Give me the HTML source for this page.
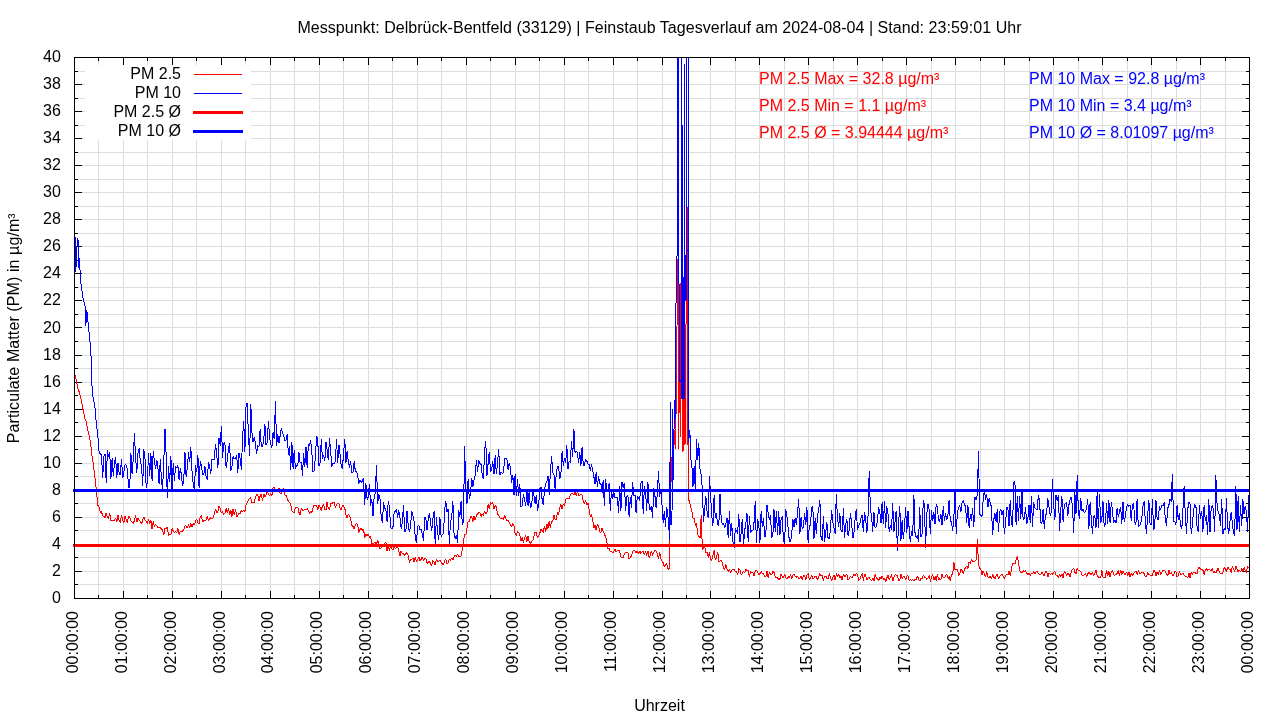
<!DOCTYPE html><html><head><meta charset="utf-8"><style>html,body{margin:0;padding:0;background:#fff;width:1280px;height:720px;overflow:hidden}svg{display:block;will-change:transform}text{font-family:"Liberation Sans",sans-serif;font-size:16px}</style></head><body><svg width="1280" height="720" viewBox="0 0 1280 720"><rect x="0" y="0" width="1280" height="720" fill="#fff"/><path d="M74.5 584.50H1249.5M74.5 571.50H1249.5M74.5 557.50H1249.5M74.5 544.50H1249.5M74.5 530.50H1249.5M74.5 517.50H1249.5M74.5 503.50H1249.5M74.5 490.50H1249.5M74.5 476.50H1249.5M74.5 463.50H1249.5M74.5 449.50H1249.5M74.5 436.50H1249.5M74.5 422.50H1249.5M74.5 409.50H1249.5M74.5 395.50H1249.5M74.5 382.50H1249.5M74.5 368.50H1249.5M74.5 355.50H1249.5M74.5 341.50H1249.5M74.5 327.50H1249.5M74.5 314.50H1249.5M74.5 300.50H1249.5M74.5 287.50H1249.5M74.5 273.50H1249.5M74.5 260.50H1249.5M74.5 246.50H1249.5M74.5 233.50H1249.5M74.5 219.50H1249.5M74.5 206.50H1249.5M74.5 192.50H1249.5M74.5 179.50H1249.5M74.5 165.50H1249.5M74.5 152.50H1249.5M74.5 138.50H1249.5M74.5 125.50H1249.5M74.5 111.50H1249.5M74.5 98.50H1249.5M74.5 84.50H1249.5M74.5 71.50H1249.5M98.50 57.5V598.5M123.50 57.5V598.5M147.50 57.5V598.5M172.50 57.5V598.5M196.50 57.5V598.5M221.50 57.5V598.5M245.50 57.5V598.5M270.50 57.5V598.5M294.50 57.5V598.5M319.50 57.5V598.5M343.50 57.5V598.5M368.50 57.5V598.5M392.50 57.5V598.5M417.50 57.5V598.5M441.50 57.5V598.5M466.50 57.5V598.5M490.50 57.5V598.5M515.50 57.5V598.5M539.50 57.5V598.5M564.50 57.5V598.5M588.50 57.5V598.5M613.50 57.5V598.5M637.50 57.5V598.5M662.50 57.5V598.5M686.50 57.5V598.5M710.50 57.5V598.5M735.50 57.5V598.5M759.50 57.5V598.5M784.50 57.5V598.5M808.50 57.5V598.5M833.50 57.5V598.5M857.50 57.5V598.5M882.50 57.5V598.5M906.50 57.5V598.5M931.50 57.5V598.5M955.50 57.5V598.5M980.50 57.5V598.5M1004.50 57.5V598.5M1029.50 57.5V598.5M1053.50 57.5V598.5M1078.50 57.5V598.5M1102.50 57.5V598.5M1127.50 57.5V598.5M1151.50 57.5V598.5M1176.50 57.5V598.5M1200.50 57.5V598.5M1225.50 57.5V598.5" stroke="#dddddd" stroke-width="1" fill="none"/><rect x="85" y="65" width="166" height="75" fill="#fff"/><path d="M74.5 598.50h7.5M1249.5 598.50h-7.5M74.5 584.50h3.5M1249.5 584.50h-3.5M74.5 571.50h7.5M1249.5 571.50h-7.5M74.5 557.50h3.5M1249.5 557.50h-3.5M74.5 544.50h7.5M1249.5 544.50h-7.5M74.5 530.50h3.5M1249.5 530.50h-3.5M74.5 517.50h7.5M1249.5 517.50h-7.5M74.5 503.50h3.5M1249.5 503.50h-3.5M74.5 490.50h7.5M1249.5 490.50h-7.5M74.5 476.50h3.5M1249.5 476.50h-3.5M74.5 463.50h7.5M1249.5 463.50h-7.5M74.5 449.50h3.5M1249.5 449.50h-3.5M74.5 436.50h7.5M1249.5 436.50h-7.5M74.5 422.50h3.5M1249.5 422.50h-3.5M74.5 409.50h7.5M1249.5 409.50h-7.5M74.5 395.50h3.5M1249.5 395.50h-3.5M74.5 382.50h7.5M1249.5 382.50h-7.5M74.5 368.50h3.5M1249.5 368.50h-3.5M74.5 355.50h7.5M1249.5 355.50h-7.5M74.5 341.50h3.5M1249.5 341.50h-3.5M74.5 327.50h7.5M1249.5 327.50h-7.5M74.5 314.50h3.5M1249.5 314.50h-3.5M74.5 300.50h7.5M1249.5 300.50h-7.5M74.5 287.50h3.5M1249.5 287.50h-3.5M74.5 273.50h7.5M1249.5 273.50h-7.5M74.5 260.50h3.5M1249.5 260.50h-3.5M74.5 246.50h7.5M1249.5 246.50h-7.5M74.5 233.50h3.5M1249.5 233.50h-3.5M74.5 219.50h7.5M1249.5 219.50h-7.5M74.5 206.50h3.5M1249.5 206.50h-3.5M74.5 192.50h7.5M1249.5 192.50h-7.5M74.5 179.50h3.5M1249.5 179.50h-3.5M74.5 165.50h7.5M1249.5 165.50h-7.5M74.5 152.50h3.5M1249.5 152.50h-3.5M74.5 138.50h7.5M1249.5 138.50h-7.5M74.5 125.50h3.5M1249.5 125.50h-3.5M74.5 111.50h7.5M1249.5 111.50h-7.5M74.5 98.50h3.5M1249.5 98.50h-3.5M74.5 84.50h7.5M1249.5 84.50h-7.5M74.5 71.50h3.5M1249.5 71.50h-3.5M74.5 57.50h7.5M1249.5 57.50h-7.5M74.50 598.5v-7.5M74.50 57.5v7.5M98.50 598.5v-3.5M98.50 57.5v3.5M123.50 598.5v-7.5M123.50 57.5v7.5M147.50 598.5v-3.5M147.50 57.5v3.5M172.50 598.5v-7.5M172.50 57.5v7.5M196.50 598.5v-3.5M196.50 57.5v3.5M221.50 598.5v-7.5M221.50 57.5v7.5M245.50 598.5v-3.5M245.50 57.5v3.5M270.50 598.5v-7.5M270.50 57.5v7.5M294.50 598.5v-3.5M294.50 57.5v3.5M319.50 598.5v-7.5M319.50 57.5v7.5M343.50 598.5v-3.5M343.50 57.5v3.5M368.50 598.5v-7.5M368.50 57.5v7.5M392.50 598.5v-3.5M392.50 57.5v3.5M417.50 598.5v-7.5M417.50 57.5v7.5M441.50 598.5v-3.5M441.50 57.5v3.5M466.50 598.5v-7.5M466.50 57.5v7.5M490.50 598.5v-3.5M490.50 57.5v3.5M515.50 598.5v-7.5M515.50 57.5v7.5M539.50 598.5v-3.5M539.50 57.5v3.5M564.50 598.5v-7.5M564.50 57.5v7.5M588.50 598.5v-3.5M588.50 57.5v3.5M613.50 598.5v-7.5M613.50 57.5v7.5M637.50 598.5v-3.5M637.50 57.5v3.5M662.50 598.5v-7.5M662.50 57.5v7.5M686.50 598.5v-3.5M686.50 57.5v3.5M710.50 598.5v-7.5M710.50 57.5v7.5M735.50 598.5v-3.5M735.50 57.5v3.5M759.50 598.5v-7.5M759.50 57.5v7.5M784.50 598.5v-3.5M784.50 57.5v3.5M808.50 598.5v-7.5M808.50 57.5v7.5M833.50 598.5v-3.5M833.50 57.5v3.5M857.50 598.5v-7.5M857.50 57.5v7.5M882.50 598.5v-3.5M882.50 57.5v3.5M906.50 598.5v-7.5M906.50 57.5v7.5M931.50 598.5v-3.5M931.50 57.5v3.5M955.50 598.5v-7.5M955.50 57.5v7.5M980.50 598.5v-3.5M980.50 57.5v3.5M1004.50 598.5v-7.5M1004.50 57.5v7.5M1029.50 598.5v-3.5M1029.50 57.5v3.5M1053.50 598.5v-7.5M1053.50 57.5v7.5M1078.50 598.5v-3.5M1078.50 57.5v3.5M1102.50 598.5v-7.5M1102.50 57.5v7.5M1127.50 598.5v-3.5M1127.50 57.5v3.5M1151.50 598.5v-7.5M1151.50 57.5v7.5M1176.50 598.5v-3.5M1176.50 57.5v3.5M1200.50 598.5v-7.5M1200.50 57.5v7.5M1225.50 598.5v-3.5M1225.50 57.5v3.5M1249.50 598.5v-7.5M1249.50 57.5v7.5" stroke="#000" stroke-width="1" fill="none"/><defs><clipPath id="cp"><rect x="74.0" y="57.0" width="1176.0" height="542.0"/></clipPath></defs><g clip-path="url(#cp)" fill="none" stroke-linejoin="bevel" stroke-linecap="butt"><path d="M74.5 372.5L75.7 377.6L76.8 382.5L78.0 388.6L79.2 392.1L80.4 397.0L81.5 401.1L82.7 408.2L83.9 413.2L85.1 419.3L86.2 421.8L87.4 428.2L88.6 433.6L89.8 438.7L90.9 445.8L92.1 456.9L93.3 463.4L94.5 474.0L95.6 483.3L96.8 495.2L98.0 505.5L99.2 507.0L100.3 512.9L101.5 511.7L102.7 515.9L103.9 516.3L105.0 517.7L106.2 512.7L107.4 517.7L108.6 518.2L109.7 513.0L110.9 521.3L112.1 520.4L113.3 520.1L114.4 520.2L115.6 517.8L116.8 521.7L118.0 515.1L119.1 520.6L120.3 522.8L121.5 514.7L122.7 520.0L123.8 523.0L125.0 515.6L126.2 519.4L127.4 522.5L128.5 516.9L129.7 516.5L130.9 521.1L132.1 521.9L133.2 523.3L134.4 520.7L135.6 515.4L136.8 522.4L137.9 517.7L139.1 520.2L140.3 521.7L141.5 524.1L142.7 520.3L143.8 516.7L145.0 520.1L146.2 521.3L147.4 523.8L148.5 519.6L149.7 523.6L150.9 519.9L152.1 529.1L153.2 521.2L154.4 526.6L155.6 524.1L156.8 525.8L157.9 527.7L159.1 527.2L160.3 527.9L161.5 528.6L162.6 530.5L163.8 534.9L165.0 528.4L166.2 528.3L167.3 527.4L168.5 535.4L169.7 534.5L170.9 534.9L172.0 528.6L173.2 531.0L174.4 533.0L175.6 531.5L176.7 533.2L177.9 528.2L179.1 534.4L180.3 531.5L181.4 531.5L182.6 531.1L183.8 529.6L185.0 525.6L186.1 526.2L187.3 528.3L188.5 523.9L189.7 527.8L190.8 523.3L192.0 527.0L193.2 523.7L194.4 525.2L195.5 520.8L196.7 518.8L197.9 522.9L199.1 523.6L200.2 517.3L201.4 515.3L202.6 522.3L203.8 520.8L204.9 520.4L206.1 520.2L207.3 516.3L208.5 520.7L209.6 518.9L210.8 517.8L212.0 518.8L213.2 517.8L214.3 514.0L215.5 508.7L216.7 512.8L217.9 511.3L219.0 506.2L220.2 508.4L221.4 513.2L222.6 511.6L223.7 514.6L224.9 513.3L226.1 508.4L227.3 513.4L228.4 507.6L229.6 515.2L230.8 510.3L232.0 516.6L233.1 508.6L234.3 515.0L235.5 509.4L236.7 516.3L237.8 515.9L239.0 513.1L240.2 513.6L241.4 510.5L242.5 511.8L243.7 509.8L244.9 512.0L246.1 504.3L247.2 502.6L248.4 499.7L249.6 498.2L250.8 497.9L251.9 503.1L253.1 502.8L254.3 502.8L255.5 496.9L256.6 494.2L257.8 494.6L259.0 500.6L260.2 495.8L261.3 493.7L262.5 500.7L263.7 493.8L264.9 496.6L266.0 494.7L267.2 491.6L268.4 493.2L269.6 496.3L270.7 493.5L271.9 495.8L273.1 487.6L274.3 487.8L275.4 490.3L276.6 492.1L277.8 489.9L279.0 488.5L280.1 493.2L281.3 493.4L282.5 491.4L283.7 487.7L284.8 494.9L286.0 495.5L287.2 498.5L288.4 501.4L289.5 502.6L290.7 503.8L291.9 510.7L293.1 512.2L294.2 512.9L295.4 507.5L296.6 507.1L297.8 507.4L298.9 512.2L300.1 515.2L301.3 508.4L302.5 510.1L303.6 510.7L304.8 509.3L306.0 510.2L307.2 508.4L308.3 510.1L309.5 513.4L310.7 511.2L311.9 512.8L313.0 507.7L314.2 505.0L315.4 505.2L316.6 505.3L317.7 509.9L318.9 504.7L320.1 507.5L321.3 510.6L322.4 505.8L323.6 503.9L324.8 509.5L326.0 510.1L327.1 501.7L328.3 508.2L329.5 509.4L330.7 503.2L331.8 503.7L333.0 502.2L334.2 502.5L335.4 507.4L336.5 504.5L337.7 503.3L338.9 503.8L340.1 508.7L341.2 510.3L342.4 505.0L343.6 506.0L344.8 508.2L345.9 515.0L347.1 518.3L348.3 514.0L349.5 515.4L350.6 519.2L351.8 525.1L353.0 526.6L354.2 528.9L355.3 525.5L356.5 523.5L357.7 524.8L358.9 532.5L360.0 529.4L361.2 528.4L362.4 530.2L363.6 529.4L364.7 537.6L365.9 534.1L367.1 535.7L368.3 533.9L369.4 537.7L370.6 536.3L371.8 543.4L373.0 543.6L374.1 543.1L375.3 542.4L376.5 544.7L377.7 539.7L378.8 543.0L380.0 548.4L381.2 548.0L382.4 544.1L383.5 545.1L384.7 543.3L385.9 542.5L387.1 551.4L388.2 545.0L389.4 551.0L390.6 545.8L391.8 548.8L392.9 550.1L394.1 547.3L395.3 548.6L396.5 547.8L397.6 547.1L398.8 550.8L400.0 555.5L401.2 550.7L402.3 553.3L403.5 553.6L404.7 555.4L405.9 553.4L407.0 552.6L408.2 555.9L409.4 562.4L410.6 559.6L411.7 559.1L412.9 558.2L414.1 562.1L415.3 557.1L416.4 561.5L417.6 560.6L418.8 556.8L420.0 560.9L421.1 559.5L422.3 556.7L423.5 560.8L424.7 558.7L425.8 558.0L427.0 563.3L428.2 562.3L429.4 560.9L430.5 563.8L431.7 565.3L432.9 560.6L434.1 562.0L435.2 565.3L436.4 559.6L437.6 561.2L438.8 561.4L439.9 560.2L441.1 562.0L442.3 564.0L443.5 564.7L444.6 560.5L445.8 559.3L447.0 563.6L448.2 562.9L449.3 559.0L450.5 560.3L451.7 558.1L452.9 560.1L454.0 556.8L455.2 555.1L456.4 556.3L457.6 554.3L458.7 556.1L459.9 556.2L461.1 555.9L462.3 549.9L463.4 542.1L464.6 534.6L465.8 535.0L467.0 528.4L468.1 521.1L469.3 521.4L470.5 516.8L471.7 516.9L472.8 521.4L474.0 516.3L475.2 520.2L476.4 515.1L477.5 513.9L478.7 512.8L479.9 512.7L481.1 516.6L482.2 514.0L483.4 515.4L484.6 511.0L485.8 513.5L486.9 512.8L488.1 504.4L489.3 508.8L490.5 502.5L491.6 504.0L492.8 502.6L494.0 508.7L495.2 505.6L496.3 506.7L497.5 514.0L498.7 514.9L499.9 517.9L501.0 519.2L502.2 518.0L503.4 519.6L504.6 515.4L505.7 518.1L506.9 520.4L508.1 520.7L509.3 522.8L510.4 524.6L511.6 526.5L512.8 523.7L514.0 526.3L515.1 533.4L516.3 535.9L517.5 531.5L518.7 532.2L519.8 534.9L521.0 541.2L522.2 537.5L523.4 542.7L524.5 538.6L525.7 535.5L526.9 541.6L528.1 536.1L529.2 541.6L530.4 544.2L531.6 541.0L532.8 540.8L533.9 536.4L535.1 532.2L536.3 532.8L537.5 537.6L538.6 536.1L539.8 533.3L541.0 529.1L542.2 530.7L543.3 532.9L544.5 525.6L545.7 531.9L546.9 523.6L548.0 528.5L549.2 521.3L550.4 527.6L551.6 521.0L552.7 521.4L553.9 515.0L555.1 518.9L556.3 520.1L557.4 512.1L558.6 515.1L559.8 507.2L561.0 504.6L562.1 508.8L563.3 503.8L564.5 506.3L565.7 499.0L566.8 498.2L568.0 498.3L569.2 498.7L570.4 495.1L571.5 493.7L572.7 493.2L573.9 495.1L575.1 492.0L576.2 495.9L577.4 491.0L578.6 495.8L579.8 495.2L580.9 493.9L582.1 495.0L583.3 501.3L584.5 503.7L585.6 500.1L586.8 504.9L588.0 502.7L589.2 509.6L590.3 516.3L591.5 514.2L592.7 520.2L593.9 527.7L595.0 525.4L596.2 530.4L597.4 524.5L598.6 526.6L599.7 531.6L600.9 532.8L602.1 528.0L603.2 531.5L604.4 534.3L605.6 536.5L606.8 541.3L607.9 548.7L609.1 547.8L610.3 551.8L611.5 550.9L612.6 552.7L613.8 551.9L615.0 549.1L616.2 551.8L617.3 550.8L618.5 550.0L619.7 551.1L620.9 556.8L622.0 557.4L623.2 557.7L624.4 554.2L625.6 552.0L626.7 553.1L627.9 552.7L629.1 559.0L630.3 557.9L631.4 555.8L632.6 551.9L633.8 550.1L635.0 550.9L636.1 552.5L637.3 551.3L638.5 553.7L639.7 550.8L640.8 553.4L642.0 551.7L643.2 551.6L644.4 554.5L645.5 551.6L646.7 555.6L647.9 550.8L649.1 557.5L650.2 555.5L651.4 550.8L652.6 555.4L653.8 552.1L654.9 550.5L656.1 551.0L657.3 554.0L658.5 558.8L659.6 552.6L660.8 558.1L662.0 561.2L663.2 562.8L664.3 566.9L665.5 564.5L666.7 563.2L667.9 569.2L669.0 568.8L669.3 567.0L670.5 495.0L672.5 445.0L674.0 430.0L675.3 449.0L676.0 416.0L677.3 300.0L678.0 259.0L678.8 449.0L679.5 330.0L680.5 437.0L681.3 200.0L682.3 155.0L683.0 452.0L684.0 350.0L685.0 445.0L687.0 207.5L687.4 445.0L688.0 300.0L688.7 500.0L689.5 500.9L690.7 507.3L691.8 510.8L693.0 518.0L694.2 518.4L695.4 525.4L696.5 523.1L697.7 534.5L698.9 536.4L700.1 538.4L701.2 515.0L702.4 549.9L703.6 547.5L704.8 546.7L705.9 552.9L707.1 552.3L708.3 557.5L709.5 552.3L710.6 559.4L711.8 560.2L713.0 555.1L714.2 550.0L715.3 560.2L716.5 558.0L717.7 552.0L718.9 561.6L720.0 561.1L721.2 560.1L722.4 562.8L723.6 568.5L724.7 569.6L725.9 564.6L727.1 569.6L728.3 571.5L729.4 569.6L730.6 572.8L731.8 570.1L733.0 569.5L734.1 569.3L735.3 571.1L736.5 572.0L737.7 575.0L738.8 568.5L740.0 570.2L741.2 575.0L742.4 573.7L743.5 570.9L744.7 573.2L745.9 569.5L747.1 570.5L748.2 569.9L749.4 576.6L750.6 571.1L751.8 573.1L752.9 572.8L754.1 575.8L755.3 570.9L756.5 570.5L757.6 571.9L758.8 575.1L760.0 573.5L761.2 571.4L762.3 573.1L763.5 573.0L764.7 576.8L765.9 576.7L767.0 571.3L768.2 577.8L769.4 572.0L770.6 574.4L771.7 574.7L772.9 571.6L774.1 572.3L775.3 577.4L776.4 577.0L777.6 577.9L778.8 579.4L780.0 578.8L781.1 574.1L782.3 577.0L783.5 577.1L784.7 573.7L785.8 578.0L787.0 579.3L788.2 576.7L789.4 578.3L790.5 574.3L791.7 578.8L792.9 574.8L794.1 574.6L795.2 576.7L796.4 577.1L797.6 575.9L798.8 578.9L799.9 578.3L801.1 576.5L802.3 579.4L803.5 575.5L804.6 575.5L805.8 580.2L807.0 574.9L808.2 573.5L809.3 579.3L810.5 578.0L811.7 575.1L812.9 579.0L814.0 578.0L815.2 576.2L816.4 576.8L817.6 580.2L818.7 577.0L819.9 573.5L821.1 576.2L822.3 575.1L823.4 580.4L824.6 576.3L825.8 576.0L827.0 578.9L828.1 579.0L829.3 573.5L830.5 578.3L831.7 580.4L832.8 577.6L834.0 575.2L835.2 580.4L836.4 573.5L837.5 577.0L838.7 574.6L839.9 577.5L841.1 576.3L842.2 580.2L843.4 573.7L844.6 576.9L845.8 575.5L846.9 574.1L848.1 580.0L849.3 578.5L850.5 576.1L851.6 577.6L852.8 576.9L854.0 573.9L855.2 576.0L856.3 573.7L857.5 574.2L858.7 580.3L859.9 579.7L861.0 575.9L862.2 573.6L863.4 580.6L864.6 574.0L865.7 575.5L866.9 580.3L868.1 578.1L869.3 577.0L870.4 579.7L871.6 580.8L872.8 578.1L874.0 580.9L875.1 574.1L876.3 577.7L877.5 579.0L878.7 580.3L879.8 577.3L881.0 578.5L882.2 575.8L883.4 579.3L884.5 578.1L885.7 581.4L886.9 577.7L888.1 575.0L889.2 579.8L890.4 577.1L891.6 574.5L892.8 581.2L893.9 577.5L895.1 574.8L896.3 575.1L897.5 575.5L898.6 580.9L899.8 580.0L901.0 573.8L902.2 579.1L903.3 576.1L904.5 577.0L905.7 579.4L906.9 575.8L908.0 575.8L909.2 580.9L910.4 579.8L911.6 580.1L912.7 579.4L913.9 581.2L915.1 579.5L916.3 579.5L917.4 575.8L918.6 579.1L919.8 581.0L921.0 578.1L922.1 579.2L923.3 574.9L924.5 577.2L925.7 577.7L926.8 579.3L928.0 577.7L929.2 575.4L930.4 581.4L931.5 577.4L932.7 574.4L933.9 580.2L935.1 576.4L936.2 581.1L937.4 573.7L938.6 579.6L939.8 578.9L940.9 579.2L942.1 573.8L943.3 577.5L944.5 577.5L945.6 575.9L946.8 574.2L948.0 578.4L949.2 576.4L950.3 581.1L951.5 574.1L952.7 574.4L953.9 562.5L955.0 569.6L956.2 569.7L957.4 569.2L958.6 575.3L959.7 574.8L960.9 569.4L962.1 570.7L963.3 573.8L964.4 569.0L965.6 567.7L966.8 566.2L968.0 568.5L969.1 561.8L970.3 563.8L971.5 558.7L972.7 562.0L973.8 561.9L975.0 561.2L976.2 559.8L977.4 538.8L978.5 565.1L979.7 568.0L980.9 569.6L982.1 575.3L983.2 570.7L984.4 573.6L985.6 577.3L986.8 571.6L987.9 577.2L989.1 578.2L990.3 576.0L991.5 578.4L992.6 574.6L993.8 577.2L995.0 579.0L996.2 575.0L997.3 574.6L998.5 578.6L999.7 576.6L1000.9 575.0L1002.0 574.2L1003.2 576.7L1004.4 578.8L1005.6 575.0L1006.7 574.7L1007.9 575.1L1009.1 571.3L1010.3 576.2L1011.4 569.3L1012.6 563.0L1013.8 563.1L1015.0 563.5L1016.1 560.0L1017.3 556.0L1018.5 562.3L1019.7 570.0L1020.8 572.7L1022.0 572.7L1023.2 570.5L1024.4 571.9L1025.5 570.3L1026.7 573.4L1027.9 574.6L1029.1 572.8L1030.2 575.4L1031.4 573.1L1032.6 573.8L1033.8 571.6L1034.9 574.3L1036.1 571.7L1037.3 571.8L1038.5 573.4L1039.6 575.1L1040.8 574.1L1042.0 571.8L1043.2 574.6L1044.3 575.6L1045.5 571.7L1046.7 571.0L1047.9 576.9L1049.0 572.7L1050.2 574.5L1051.4 573.9L1052.6 574.1L1053.7 572.5L1054.9 571.2L1056.1 575.6L1057.3 575.4L1058.4 577.5L1059.6 574.0L1060.8 576.8L1062.0 574.0L1063.1 577.9L1064.3 571.3L1065.5 572.4L1066.7 576.2L1067.8 573.4L1069.0 574.5L1070.2 577.0L1071.4 571.0L1072.5 569.2L1073.7 568.2L1074.9 572.3L1076.1 574.3L1077.2 568.0L1078.4 570.5L1079.6 570.5L1080.8 571.7L1081.9 575.0L1083.1 576.1L1084.3 574.3L1085.5 573.8L1086.6 577.3L1087.8 573.5L1089.0 572.4L1090.2 573.8L1091.3 575.3L1092.5 571.9L1093.7 576.0L1094.9 573.0L1096.0 570.5L1097.2 575.6L1098.4 577.1L1099.6 577.3L1100.7 577.9L1101.9 570.4L1103.1 577.8L1104.3 577.2L1105.4 577.1L1106.6 570.1L1107.8 575.4L1109.0 571.6L1110.1 577.2L1111.3 572.2L1112.5 570.5L1113.7 574.7L1114.8 575.5L1116.0 574.3L1117.2 573.3L1118.4 570.5L1119.5 575.8L1120.7 570.1L1121.9 574.6L1123.1 570.8L1124.2 573.6L1125.4 574.7L1126.6 572.0L1127.8 576.0L1128.9 572.0L1130.1 576.9L1131.3 573.1L1132.5 575.5L1133.6 573.6L1134.8 572.6L1136.0 570.7L1137.2 574.9L1138.3 570.4L1139.5 573.7L1140.7 573.3L1141.9 572.3L1143.0 572.0L1144.2 573.9L1145.4 577.0L1146.6 576.4L1147.7 572.5L1148.9 574.8L1150.1 575.0L1151.3 575.8L1152.4 575.0L1153.6 570.5L1154.8 571.1L1156.0 576.3L1157.1 572.1L1158.3 574.5L1159.5 570.4L1160.7 574.6L1161.8 572.3L1163.0 570.3L1164.2 570.1L1165.4 571.9L1166.5 574.1L1167.7 576.0L1168.9 570.2L1170.1 574.1L1171.2 572.7L1172.4 574.9L1173.6 575.6L1174.8 570.7L1175.9 572.0L1177.1 577.0L1178.3 575.3L1179.5 571.3L1180.6 574.7L1181.8 574.0L1183.0 573.1L1184.2 575.7L1185.3 576.2L1186.5 576.7L1187.7 578.0L1188.9 572.7L1190.0 577.9L1191.2 572.6L1192.4 574.5L1193.6 572.1L1194.7 572.2L1195.9 573.7L1197.1 573.8L1198.3 568.1L1199.4 567.3L1200.6 569.8L1201.8 569.5L1203.0 570.5L1204.1 574.5L1205.3 569.3L1206.5 568.7L1207.7 570.3L1208.8 569.5L1210.0 570.1L1211.2 571.0L1212.4 567.7L1213.5 572.8L1214.7 571.8L1215.9 572.7L1217.1 570.2L1218.2 568.0L1219.4 572.5L1220.6 573.6L1221.8 573.7L1222.9 572.3L1224.1 567.5L1225.3 568.8L1226.5 572.0L1227.6 566.8L1228.8 568.7L1230.0 569.5L1231.2 572.7L1232.3 566.6L1233.5 568.5L1234.7 571.4L1235.9 566.3L1237.0 568.7L1238.2 572.1L1239.4 569.9L1240.6 572.1L1241.7 568.1L1242.9 571.8L1244.1 567.4L1245.3 571.1L1246.4 572.4L1247.6 566.5L1248.8 568.3" stroke="#f00" stroke-width="1" shape-rendering="crispEdges"/><path d="M74.5 240.0L75.2 237.5L75.6 272.0L76.5 262.0L77.3 238.0L78.0 238.0L78.4 268.0L79.2 258.0L81.0 284.0L83.0 298.0L85.0 306.0L85.8 326.0L86.8 310.0L89.4 336.0L90.8 350.0L92.2 392.0L95.0 408.0L96.4 425.0L97.5 432.0L99.2 452.7L100.3 453.8L101.5 454.7L102.7 478.1L103.9 456.1L105.0 454.0L106.2 482.7L107.4 450.1L108.6 457.1L109.7 451.9L110.9 478.7L112.1 458.0L113.3 476.4L114.4 462.9L115.6 457.4L116.8 477.5L118.0 463.1L119.1 473.2L120.3 474.9L121.5 458.9L122.7 478.2L123.8 472.8L125.0 464.6L126.2 464.9L127.4 469.7L128.5 486.9L129.7 488.2L130.9 452.9L132.1 474.3L133.2 459.9L134.4 433.0L135.6 458.5L136.8 472.7L137.9 453.3L139.1 448.3L140.3 461.4L141.5 465.1L142.7 486.3L143.8 449.4L145.0 458.6L146.2 487.5L147.4 481.6L148.5 452.8L149.7 476.0L150.9 453.0L152.1 480.8L153.2 451.1L154.4 460.6L155.6 468.8L156.8 460.2L157.9 467.1L159.1 483.8L160.3 458.9L161.5 481.3L162.6 489.2L163.8 460.1L165.0 428.8L166.2 456.0L167.3 498.0L168.5 466.5L169.7 481.9L170.9 455.6L172.0 491.9L173.2 463.3L174.4 480.8L175.6 466.2L176.7 468.1L177.9 465.5L179.1 479.9L180.3 468.0L181.4 474.9L182.6 486.0L183.8 478.9L185.0 452.4L186.1 476.7L187.3 467.7L188.5 452.5L189.7 462.4L190.8 447.5L192.0 470.8L193.2 483.5L194.4 490.2L195.5 464.9L196.7 472.2L197.9 455.0L199.1 488.3L200.2 461.6L201.4 465.6L202.6 474.4L203.8 474.9L204.9 466.2L206.1 476.4L207.3 480.0L208.5 462.1L209.6 465.8L210.8 474.1L212.0 459.2L213.2 459.6L214.3 459.9L215.5 443.7L216.7 453.9L217.9 468.2L219.0 437.9L220.2 445.6L221.4 426.2L222.6 457.5L223.7 444.0L224.9 442.8L226.1 468.1L227.3 460.2L228.4 449.0L229.6 443.2L230.8 470.9L232.0 466.5L233.1 456.3L234.3 459.1L235.5 458.3L236.7 454.7L237.8 472.6L239.0 452.8L240.2 458.5L241.4 469.8L242.5 438.9L243.7 421.4L244.9 452.0L246.1 403.0L247.2 403.5L248.4 433.6L249.6 455.6L250.8 404.0L251.9 432.5L253.1 442.4L254.3 437.3L255.5 443.6L256.6 454.2L257.8 445.6L259.0 446.7L260.2 428.6L261.3 447.0L262.5 446.3L263.7 440.7L264.9 424.1L266.0 444.6L267.2 442.4L268.4 420.8L269.6 437.8L270.7 444.5L271.9 447.4L273.1 432.2L274.3 439.1L275.4 401.0L276.6 445.9L277.8 434.0L279.0 442.6L280.1 436.0L281.3 428.4L282.5 433.2L283.7 435.6L284.8 441.2L286.0 440.2L287.2 433.8L288.4 454.9L289.5 446.2L290.7 469.8L291.9 442.5L293.1 468.5L294.2 450.1L295.4 469.4L296.6 464.9L297.8 465.8L298.9 452.5L300.1 462.4L301.3 462.0L302.5 475.9L303.6 453.2L304.8 466.6L306.0 446.8L307.2 468.2L308.3 444.3L309.5 445.6L310.7 440.4L311.9 453.4L313.0 471.7L314.2 471.1L315.4 456.9L316.6 436.1L317.7 439.5L318.9 466.1L320.1 462.9L321.3 439.4L322.4 459.0L323.6 454.8L324.8 461.2L326.0 442.1L327.1 449.8L328.3 460.0L329.5 437.8L330.7 451.8L331.8 466.8L333.0 463.2L334.2 463.5L335.4 460.9L336.5 439.1L337.7 463.4L338.9 444.6L340.1 454.7L341.2 466.0L342.4 468.7L343.6 452.9L344.8 439.1L345.9 463.4L347.1 451.3L348.3 461.7L349.5 467.9L350.6 460.7L351.8 473.3L353.0 472.3L354.2 460.9L355.3 471.1L356.5 471.4L357.7 476.0L358.9 483.7L360.0 479.6L361.2 482.9L362.4 480.8L363.6 478.2L364.7 505.3L365.9 483.4L367.1 499.4L368.3 496.8L369.4 484.1L370.6 505.5L371.8 499.1L373.0 516.3L374.1 497.7L375.3 492.8L376.5 465.0L377.7 503.6L378.8 494.4L380.0 498.8L381.2 516.4L382.4 523.4L383.5 502.2L384.7 508.3L385.9 509.7L387.1 521.8L388.2 501.0L389.4 506.8L390.6 527.4L391.8 528.5L392.9 528.0L394.1 513.1L395.3 511.1L396.5 509.3L397.6 518.0L398.8 510.5L400.0 517.8L401.2 528.8L402.3 522.7L403.5 505.5L404.7 531.8L405.9 531.1L407.0 511.1L408.2 525.0L409.4 532.2L410.6 526.0L411.7 511.4L412.9 515.0L414.1 521.7L415.3 538.1L416.4 543.2L417.6 526.5L418.8 525.4L420.0 530.0L421.1 529.5L422.3 534.0L423.5 541.0L424.7 517.3L425.8 517.3L427.0 530.2L428.2 519.1L429.4 513.5L430.5 522.2L431.7 530.8L432.9 519.1L434.1 511.2L435.2 544.7L436.4 516.9L437.6 532.4L438.8 539.6L439.9 517.5L441.1 536.5L442.3 534.8L443.5 533.8L444.6 510.8L445.8 501.0L447.0 511.8L448.2 508.6L449.3 543.9L450.5 521.3L451.7 517.8L452.9 501.1L454.0 533.4L455.2 538.4L456.4 534.9L457.6 543.0L458.7 510.0L459.9 516.7L461.1 500.9L462.3 524.3L463.4 522.6L464.6 446.0L465.8 488.7L467.0 503.6L468.1 479.3L469.3 498.7L470.5 494.7L471.7 477.6L472.8 487.3L474.0 479.8L475.2 475.1L476.4 459.6L477.5 471.5L478.7 460.6L479.9 463.3L481.1 464.5L482.2 474.3L483.4 479.2L484.6 451.0L485.8 441.0L486.9 476.3L488.1 463.5L489.3 451.7L490.5 472.3L491.6 469.8L492.8 461.5L494.0 474.4L495.2 455.1L496.3 474.4L497.5 463.6L498.7 448.8L499.9 475.1L501.0 471.7L502.2 473.3L503.4 473.0L504.6 458.8L505.7 458.6L506.9 458.5L508.1 470.3L509.3 462.7L510.4 468.0L511.6 482.5L512.8 474.8L514.0 495.2L515.1 474.5L516.3 496.2L517.5 479.5L518.7 496.2L519.8 483.9L521.0 507.3L522.2 505.9L523.4 493.6L524.5 499.2L525.7 506.1L526.9 490.9L528.1 506.2L529.2 490.7L530.4 508.0L531.6 506.6L532.8 489.8L533.9 495.0L535.1 503.8L536.3 495.1L537.5 510.5L538.6 505.8L539.8 488.8L541.0 487.2L542.2 500.6L543.3 504.5L544.5 489.7L545.7 483.8L546.9 481.3L548.0 476.2L549.2 495.1L550.4 472.1L551.6 456.0L552.7 473.0L553.9 473.1L555.1 488.7L556.3 472.8L557.4 466.3L558.6 466.5L559.8 479.2L561.0 472.1L562.1 451.1L563.3 465.8L564.5 457.8L565.7 462.7L566.8 445.2L568.0 468.7L569.2 461.0L570.4 462.7L571.5 440.8L572.7 456.9L573.9 429.0L575.1 453.2L576.2 450.8L577.4 452.6L578.6 463.1L579.8 452.0L580.9 466.2L582.1 447.0L583.3 465.2L584.5 465.1L585.6 459.4L586.8 460.9L588.0 463.9L589.2 464.7L590.3 470.5L591.5 464.3L592.7 470.2L593.9 476.8L595.0 483.8L596.2 472.3L597.4 486.7L598.6 476.1L599.7 483.4L600.9 483.7L602.1 492.5L603.2 480.3L604.4 505.9L605.6 479.1L606.8 490.0L607.9 491.4L609.1 483.2L610.3 510.5L611.5 489.1L612.6 499.4L613.8 492.3L615.0 497.5L616.2 497.0L617.3 497.3L618.5 512.5L619.7 486.1L620.9 510.7L622.0 482.4L623.2 488.4L624.4 482.7L625.6 511.4L626.7 496.8L627.9 495.0L629.1 516.8L630.3 497.3L631.4 508.2L632.6 481.7L633.8 496.2L635.0 495.2L636.1 513.4L637.3 496.3L638.5 497.5L639.7 501.1L640.8 483.6L642.0 480.9L643.2 514.3L644.4 486.4L645.5 490.3L646.7 511.3L647.9 481.7L649.1 506.1L650.2 510.2L651.4 506.2L652.6 517.8L653.8 488.4L654.9 495.2L656.1 508.2L657.3 494.0L658.5 471.0L659.6 496.6L660.8 489.7L662.0 504.5L663.2 522.6L664.3 511.4L665.5 526.6L666.7 506.7L667.9 515.0L669.8 540.0L670.2 402.0L671.0 525.0L672.4 505.0L672.8 409.0L673.5 480.0L674.3 400.0L675.0 420.0L676.3 270.0L677.3 250.0L677.3 -500.0L678.5 -500.0L678.5 220.0L679.8 382.0L681.4 380.0L681.4 -500.0L682.0 399.0L682.4 399.0L682.4 125.0L683.5 399.0L684.2 399.0L684.2 64.0L685.2 300.0L686.2 300.0L686.2 -500.0L686.8 250.0L688.3 250.0L688.3 -500.0L688.6 442.0L689.8 430.0L691.0 460.0L691.8 464.3L693.0 486.7L694.1 466.5L695.3 490.0L696.5 439.0L697.7 460.4L698.8 443.0L700.0 469.1L701.2 475.4L702.4 489.4L703.5 522.3L704.7 507.9L705.9 496.0L707.1 512.4L708.2 518.2L709.4 476.0L710.6 496.2L711.8 515.8L712.9 526.3L714.1 495.4L715.3 518.1L716.5 513.3L717.6 524.9L718.8 525.2L720.0 494.0L721.2 518.6L722.3 524.9L723.5 522.7L724.7 528.3L725.9 523.9L727.0 518.1L728.2 538.3L729.4 511.5L730.6 535.9L731.7 523.1L732.9 541.9L734.1 547.5L735.3 528.6L736.4 530.9L737.6 533.6L738.8 514.4L740.0 541.8L741.1 533.5L742.3 518.8L743.5 545.1L744.7 530.4L745.8 523.8L747.0 513.3L748.2 542.1L749.4 516.4L750.5 532.4L751.7 530.5L752.9 531.1L754.1 521.8L755.2 501.0L756.4 543.1L757.6 519.3L758.8 524.2L759.9 543.3L761.1 511.5L762.3 526.6L763.5 517.7L764.6 536.2L765.8 536.0L767.0 505.0L768.2 513.0L769.3 520.3L770.5 514.6L771.7 537.8L772.9 535.3L774.0 509.4L775.2 531.7L776.4 510.7L777.6 535.1L778.7 510.8L779.9 535.2L781.1 518.6L782.3 516.0L783.4 540.8L784.6 543.9L785.8 509.1L787.0 517.4L788.1 527.5L789.3 540.7L790.5 541.9L791.7 535.0L792.8 518.9L794.0 527.0L795.2 518.1L796.4 524.8L797.5 512.8L798.7 499.0L799.9 534.0L801.1 516.6L802.2 528.6L803.4 527.5L804.6 513.3L805.8 525.4L806.9 507.0L808.1 543.2L809.3 526.2L810.5 525.2L811.6 507.2L812.8 506.0L814.0 538.9L815.2 518.1L816.3 533.9L817.5 515.9L818.7 509.9L819.9 500.0L821.0 536.5L822.2 540.5L823.4 515.6L824.6 541.7L825.7 532.2L826.9 522.1L828.1 538.7L829.3 538.8L830.4 529.9L831.6 510.3L832.8 521.9L834.0 527.7L835.1 533.6L836.3 494.0L837.5 518.5L838.7 526.6L839.8 513.1L841.0 529.7L842.2 531.8L843.4 508.2L844.5 537.7L845.7 524.4L846.9 519.1L848.1 536.2L849.2 529.9L850.4 513.3L851.6 522.9L852.8 538.4L853.9 533.4L855.1 518.9L856.3 508.7L857.5 530.1L858.6 525.8L859.8 524.2L861.0 517.8L862.2 514.8L863.3 532.2L864.5 512.5L865.7 519.4L866.9 532.5L868.0 516.4L869.2 471.0L870.4 509.2L871.6 516.0L872.7 531.8L873.9 511.9L875.1 528.1L876.3 526.4L877.4 521.4L878.6 506.7L879.8 512.6L881.0 523.1L882.1 502.5L883.3 524.4L884.5 501.4L885.7 527.8L886.8 506.5L888.0 513.5L889.2 531.6L890.4 524.6L891.5 530.4L892.7 503.1L893.9 531.9L895.1 521.6L896.2 510.6L897.4 551.0L898.6 522.1L899.8 506.3L900.9 540.5L902.1 520.0L903.3 539.3L904.5 527.6L905.6 506.7L906.8 533.0L908.0 511.0L909.2 529.3L910.3 542.3L911.5 531.3L912.7 535.5L913.9 495.0L915.0 532.5L916.2 537.9L917.4 535.4L918.6 542.1L919.7 507.1L920.9 536.9L922.1 534.2L923.3 500.0L924.4 504.1L925.6 547.5L926.8 513.3L928.0 504.2L929.1 509.2L930.3 533.8L931.5 509.9L932.7 521.4L933.8 512.0L935.0 524.1L936.2 503.7L937.4 506.9L938.5 520.5L939.7 521.2L940.9 513.9L942.1 525.3L943.2 506.4L944.4 521.0L945.6 513.4L946.8 519.6L947.9 515.5L949.1 500.0L950.3 520.7L951.5 522.3L952.6 531.0L953.8 519.7L955.0 489.0L956.2 533.8L957.3 514.1L958.5 508.0L959.7 505.7L960.9 511.9L962.0 503.1L963.2 500.2L964.4 504.7L965.6 506.5L966.7 522.9L967.9 505.0L969.1 528.0L970.3 514.3L971.4 521.0L972.6 507.7L973.8 527.1L975.0 497.1L976.1 499.7L977.3 494.9L978.5 451.0L979.7 514.0L980.8 515.5L982.0 516.4L983.2 498.9L984.4 490.3L985.5 499.5L986.7 494.2L987.9 507.3L989.1 498.6L990.2 502.4L991.4 507.0L992.6 535.4L993.8 519.8L994.9 513.3L996.1 521.8L997.3 509.3L998.5 532.3L999.6 512.4L1000.8 508.8L1002.0 515.1L1003.2 509.9L1004.3 533.6L1005.5 523.8L1006.7 507.5L1007.9 507.7L1009.0 526.1L1010.2 500.2L1011.4 523.4L1012.6 526.4L1013.7 482.5L1014.9 481.0L1016.1 524.6L1017.3 495.7L1018.4 520.6L1019.6 496.3L1020.8 518.9L1022.0 491.1L1023.1 519.7L1024.3 518.6L1025.5 507.4L1026.7 523.8L1027.8 519.3L1029.0 504.6L1030.2 523.4L1031.4 495.8L1032.5 526.5L1033.7 502.5L1034.9 508.0L1036.1 508.9L1037.2 509.7L1038.4 494.7L1039.6 502.1L1040.8 523.1L1041.9 523.1L1043.1 509.0L1044.3 528.5L1045.5 515.0L1046.6 513.7L1047.8 498.3L1049.0 506.9L1050.2 515.7L1051.3 511.6L1052.5 478.8L1053.7 504.5L1054.9 520.2L1056.0 494.7L1057.2 501.1L1058.4 494.8L1059.6 530.8L1060.7 510.4L1061.9 496.0L1063.1 521.8L1064.3 505.4L1065.4 503.3L1066.6 502.3L1067.8 515.7L1069.0 504.6L1070.1 499.2L1071.3 497.1L1072.5 506.6L1073.7 532.5L1074.8 491.6L1076.0 513.9L1077.2 475.0L1078.4 512.4L1079.5 518.5L1080.7 497.7L1081.9 511.1L1083.1 508.7L1084.2 512.4L1085.4 511.9L1086.6 507.8L1087.8 499.3L1088.9 528.6L1090.1 502.1L1091.3 519.4L1092.5 533.8L1093.6 517.2L1094.8 515.7L1096.0 527.7L1097.2 490.7L1098.3 528.2L1099.5 493.9L1100.7 523.3L1101.9 518.4L1103.0 501.3L1104.2 526.8L1105.4 523.8L1106.6 503.0L1107.7 524.0L1108.9 500.4L1110.1 523.2L1111.3 501.9L1112.4 509.8L1113.6 523.4L1114.8 519.8L1116.0 522.9L1117.1 508.2L1118.3 517.4L1119.5 511.1L1120.7 506.8L1121.8 523.5L1123.0 502.1L1124.2 521.7L1125.4 515.6L1126.5 506.7L1127.7 504.5L1128.9 506.3L1130.1 505.4L1131.2 521.0L1132.4 505.3L1133.6 502.8L1134.8 522.2L1135.9 524.5L1137.1 499.0L1138.3 526.2L1139.5 525.5L1140.6 523.7L1141.8 518.4L1143.0 506.1L1144.2 501.1L1145.3 521.0L1146.5 533.8L1147.7 514.2L1148.9 500.4L1150.0 523.3L1151.2 525.3L1152.4 499.3L1153.6 530.2L1154.7 525.8L1155.9 499.8L1157.1 518.2L1158.3 520.4L1159.4 506.5L1160.6 509.4L1161.8 505.5L1163.0 506.2L1164.1 502.4L1165.3 518.8L1166.5 525.5L1167.7 508.4L1168.8 505.6L1170.0 499.5L1171.2 501.6L1172.4 473.8L1173.5 522.0L1174.7 521.2L1175.9 525.1L1177.1 504.9L1178.2 519.7L1179.4 513.3L1180.6 525.7L1181.8 529.0L1182.9 510.5L1184.1 486.0L1185.3 514.3L1186.5 534.2L1187.6 510.5L1188.8 502.0L1190.0 503.7L1191.2 533.6L1192.3 526.7L1193.5 510.7L1194.7 504.7L1195.9 505.5L1197.0 525.7L1198.2 531.5L1199.4 505.5L1200.6 519.3L1201.7 510.7L1202.9 531.5L1204.1 505.5L1205.3 520.9L1206.4 515.3L1207.6 534.9L1208.8 499.5L1210.0 532.4L1211.1 509.1L1212.3 505.0L1213.5 509.6L1214.7 531.6L1215.8 475.0L1217.0 503.3L1218.2 512.3L1219.4 514.5L1220.5 526.0L1221.7 498.9L1222.9 534.3L1224.1 528.7L1225.2 529.8L1226.4 498.3L1227.6 525.8L1228.8 533.6L1229.9 521.8L1231.1 512.4L1232.3 521.9L1233.5 533.2L1234.6 535.7L1235.8 486.0L1237.0 530.2L1238.2 496.5L1239.3 532.0L1240.5 505.2L1241.7 525.7L1242.9 499.0L1244.0 514.1L1245.2 505.6L1246.4 511.7L1247.6 531.8L1248.7 495.0" stroke="#00f" stroke-width="1" shape-rendering="crispEdges"/></g><path d="M73 545.50H1249.5" stroke="#f00" stroke-width="3" shape-rendering="crispEdges"/><path d="M73 490.50H1249.5" stroke="#00f" stroke-width="3" shape-rendering="crispEdges"/><rect x="74.5" y="57.5" width="1175.0" height="541.0" stroke="#000" stroke-width="1" fill="none"/><text x="60.8" y="603.0" text-anchor="end">0</text><text x="60.8" y="576.0" text-anchor="end">2</text><text x="60.8" y="548.9" text-anchor="end">4</text><text x="60.8" y="521.9" text-anchor="end">6</text><text x="60.8" y="494.8" text-anchor="end">8</text><text x="60.8" y="467.8" text-anchor="end">10</text><text x="60.8" y="440.7" text-anchor="end">12</text><text x="60.8" y="413.6" text-anchor="end">14</text><text x="60.8" y="386.6" text-anchor="end">16</text><text x="60.8" y="359.5" text-anchor="end">18</text><text x="60.8" y="332.5" text-anchor="end">20</text><text x="60.8" y="305.4" text-anchor="end">22</text><text x="60.8" y="278.4" text-anchor="end">24</text><text x="60.8" y="251.3" text-anchor="end">26</text><text x="60.8" y="224.3" text-anchor="end">28</text><text x="60.8" y="197.2" text-anchor="end">30</text><text x="60.8" y="170.2" text-anchor="end">32</text><text x="60.8" y="143.1" text-anchor="end">34</text><text x="60.8" y="116.1" text-anchor="end">36</text><text x="60.8" y="89.0" text-anchor="end">38</text><text x="60.8" y="62.0" text-anchor="end">40</text><text transform="translate(77.6,611) rotate(-90)" text-anchor="end">00:00:00</text><text transform="translate(126.6,611) rotate(-90)" text-anchor="end">01:00:00</text><text transform="translate(175.5,611) rotate(-90)" text-anchor="end">02:00:00</text><text transform="translate(224.5,611) rotate(-90)" text-anchor="end">03:00:00</text><text transform="translate(273.4,611) rotate(-90)" text-anchor="end">04:00:00</text><text transform="translate(322.4,611) rotate(-90)" text-anchor="end">05:00:00</text><text transform="translate(371.4,611) rotate(-90)" text-anchor="end">06:00:00</text><text transform="translate(420.3,611) rotate(-90)" text-anchor="end">07:00:00</text><text transform="translate(469.3,611) rotate(-90)" text-anchor="end">08:00:00</text><text transform="translate(518.2,611) rotate(-90)" text-anchor="end">09:00:00</text><text transform="translate(567.2,611) rotate(-90)" text-anchor="end">10:00:00</text><text transform="translate(616.1,611) rotate(-90)" text-anchor="end">11:00:00</text><text transform="translate(665.1,611) rotate(-90)" text-anchor="end">12:00:00</text><text transform="translate(714.1,611) rotate(-90)" text-anchor="end">13:00:00</text><text transform="translate(763.0,611) rotate(-90)" text-anchor="end">14:00:00</text><text transform="translate(812.0,611) rotate(-90)" text-anchor="end">15:00:00</text><text transform="translate(860.9,611) rotate(-90)" text-anchor="end">16:00:00</text><text transform="translate(909.9,611) rotate(-90)" text-anchor="end">17:00:00</text><text transform="translate(958.9,611) rotate(-90)" text-anchor="end">18:00:00</text><text transform="translate(1007.8,611) rotate(-90)" text-anchor="end">19:00:00</text><text transform="translate(1056.8,611) rotate(-90)" text-anchor="end">20:00:00</text><text transform="translate(1105.7,611) rotate(-90)" text-anchor="end">21:00:00</text><text transform="translate(1154.7,611) rotate(-90)" text-anchor="end">22:00:00</text><text transform="translate(1203.6,611) rotate(-90)" text-anchor="end">23:00:00</text><text transform="translate(1252.6,611) rotate(-90)" text-anchor="end">00:00:00</text><text x="659.5" y="33" text-anchor="middle" textLength="724" lengthAdjust="spacing">Messpunkt: Delbrück-Bentfeld (33129) | Feinstaub Tagesverlauf am 2024-08-04 | Stand: 23:59:01 Uhr</text><text x="659.5" y="711" text-anchor="middle">Uhrzeit</text><text transform="translate(18.5,328.3) rotate(-90)" text-anchor="middle" textLength="230" lengthAdjust="spacing">Particulate Matter (PM) in µg/m³</text><text x="181" y="79" text-anchor="end">PM 2.5</text><text x="181" y="98" text-anchor="end">PM 10</text><text x="181" y="117" text-anchor="end">PM 2.5 Ø</text><text x="181" y="136" text-anchor="end">PM 10 Ø</text><path d="M194 74.5H242" stroke="#f00" stroke-width="1"/><path d="M194 93.5H242" stroke="#00f" stroke-width="1"/><path d="M193 112.5H243" stroke="#f00" stroke-width="3"/><path d="M193 131.5H243" stroke="#00f" stroke-width="3"/><text x="759" y="84" fill="#f00">PM 2.5 Max = 32.8 µg/m³</text><text x="759" y="111" fill="#f00">PM 2.5 Min = 1.1 µg/m³</text><text x="759" y="138" fill="#f00">PM 2.5 Ø = 3.94444 µg/m³</text><text x="1029" y="84" fill="#00f">PM 10 Max = 92.8 µg/m³</text><text x="1029" y="111" fill="#00f">PM 10 Min = 3.4 µg/m³</text><text x="1029" y="138" fill="#00f">PM 10 Ø = 8.01097 µg/m³</text></svg></body></html>
